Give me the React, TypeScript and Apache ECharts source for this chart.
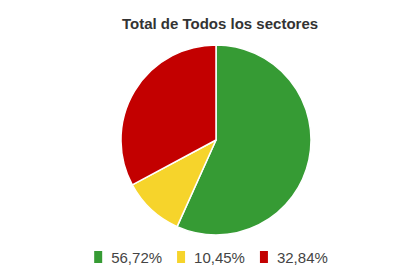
import React, { useEffect, useRef } from "react";
import * as echarts from "echarts";

const categories = ["Verde", "Amarillo", "Rojo"];
const values = [56.72, 10.45, 32.84];
const colors = ["#369b34", "#f6d42b", "#c30000"];
const labels = ["56,72%", "10,45%", "32,84%"];

export default function App() {
  const ref = useRef<HTMLDivElement>(null);
  useEffect(() => {
    const chart = echarts.init(ref.current!, null, { renderer: "svg" });
    chart.setOption({
      animation: false,
      title: {
        text: "Total de Todos los sectores",
        left: 207,
        textAlign: "center",
        top: 3,
        textStyle: {
          fontFamily: "Liberation Sans, Arial, sans-serif",
          fontSize: 15,
          fontWeight: "bold",
          color: "#333",
        },
      },
      legend: {
        top: 236,
        left: "center",
        itemWidth: 10,
        itemHeight: 14,
        itemGap: 13,
        icon: "rect",
        data: categories,
        formatter: (name: string) => labels[categories.indexOf(name)],
        textStyle: {
          fontFamily: "Liberation Sans, Arial, sans-serif",
          fontSize: 15,
          color: "#444",
          padding: [0, 0, 0, 3],
        },
      },
      series: [
        {
          type: "pie",
          center: [208, 132],
          radius: 95,
          startAngle: 90,
          clockwise: true,
          label: { show: false },
          labelLine: { show: false },
          emphasis: { disabled: true },
          itemStyle: { borderColor: "#fff", borderWidth: 1.5 },
          data: categories.map((c, i) => ({
            name: c,
            value: values[i],
            itemStyle: { color: colors[i] },
          })),
        },
      ],
    });
    return () => chart.dispose();
  }, []);
  return <div ref={ref} style={{ width: 404, height: 264 }} />;
}
